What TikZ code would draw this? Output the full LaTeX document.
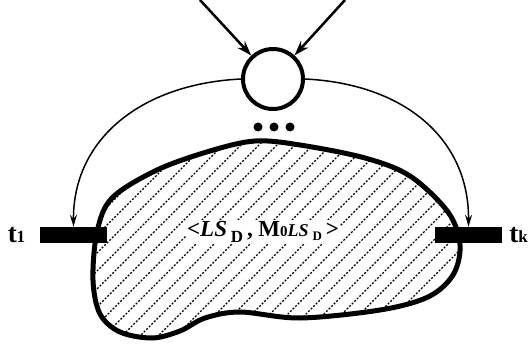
\documentclass[tikz,border=0pt]{standalone}
\usepackage{fontspec}
\setmainfont{Liberation Serif}
\usetikzlibrary{arrows.meta}

\newcommand{\blobpath}{plot[smooth cycle, tension=0.55] coordinates {
  (97,232) (112,198) (157,170) (210,151) (255,141) (300,145) (365,158)
  (410,176) (448,212) (460,245) (453,275) (428,297) (380,310) (300,318)
  (240,312) (205,318) (180,331) (152,338) (120,332) (100,314) (93,280)}}

\begin{document}
\begin{tikzpicture}[x=1pt, y=-1pt,
  place/.style={circle, draw, line width=4pt, minimum size=60pt, inner sep=0pt, fill=white},
  transbar/.style={rectangle, fill=black, minimum width=67pt, minimum height=16pt, inner sep=0pt},
  inarc/.style={line width=2.5pt, -{Stealth[length=15pt, width=10pt]}},
  outarc/.style={line width=1.5pt, -{Stealth[length=12pt, width=7pt]}},
  dot/.style={circle, fill=black, minimum size=9pt, inner sep=0pt},
  hatch/.style={line width=1.1pt, dash pattern=on 2pt off 1.6pt}]
  \useasboundingbox (0,0) rectangle (528,350);

  % subnet region
  \begin{scope}
    \clip \blobpath;
    \foreach \x in {-360,-342,...,540}
      \draw[hatch] (\x,350) -- ++(350,-350);
  \end{scope}
  \draw[line width=5pt] \blobpath;

  \node[place] (p) at (273,79) {};
  \foreach \i/\xx in {1/258, 2/274, 3/290}
    \node[dot] (dot\i) at (\xx,127) {};

  \node[transbar] (t1bar) at (73.5,235) {};
  \node[transbar] (tkbar) at (468.5,235) {};
  \node (t1lab) at (16.5,235) {\fontsize{27}{27}\selectfont\bfseries t{\fontsize{17}{17}\selectfont 1}};
  \node (tklab) at (518.5,235) {\fontsize{27}{27}\selectfont\bfseries t{\fontsize{17}{17}\selectfont k}};

  \node[fill=white, inner sep=1pt] (mark) at (263,232)
    {\fontsize{23}{23}\selectfont\bfseries <\textit{LS}\,\raisebox{-6pt}{\fontsize{17}{17}\selectfont D}\,, M{\fontsize{15}{15}\selectfont 0}{\fontsize{18}{18}\selectfont\itshape LS}\,\raisebox{-4pt}{\fontsize{13}{13}\selectfont D}\,>};

  \coordinate (src1) at (200,0);
  \coordinate (src2) at (345,0);
  \draw[inarc] (src1) -- (p);
  \draw[inarc] (src2) -- (p);

  \draw[outarc] (p.west) .. controls (140,84) and (73,140) .. (t1bar.north);
  \draw[outarc] (p.east) .. controls (406,84) and (469,140) .. (tkbar.north);
\end{tikzpicture}
\end{document}
